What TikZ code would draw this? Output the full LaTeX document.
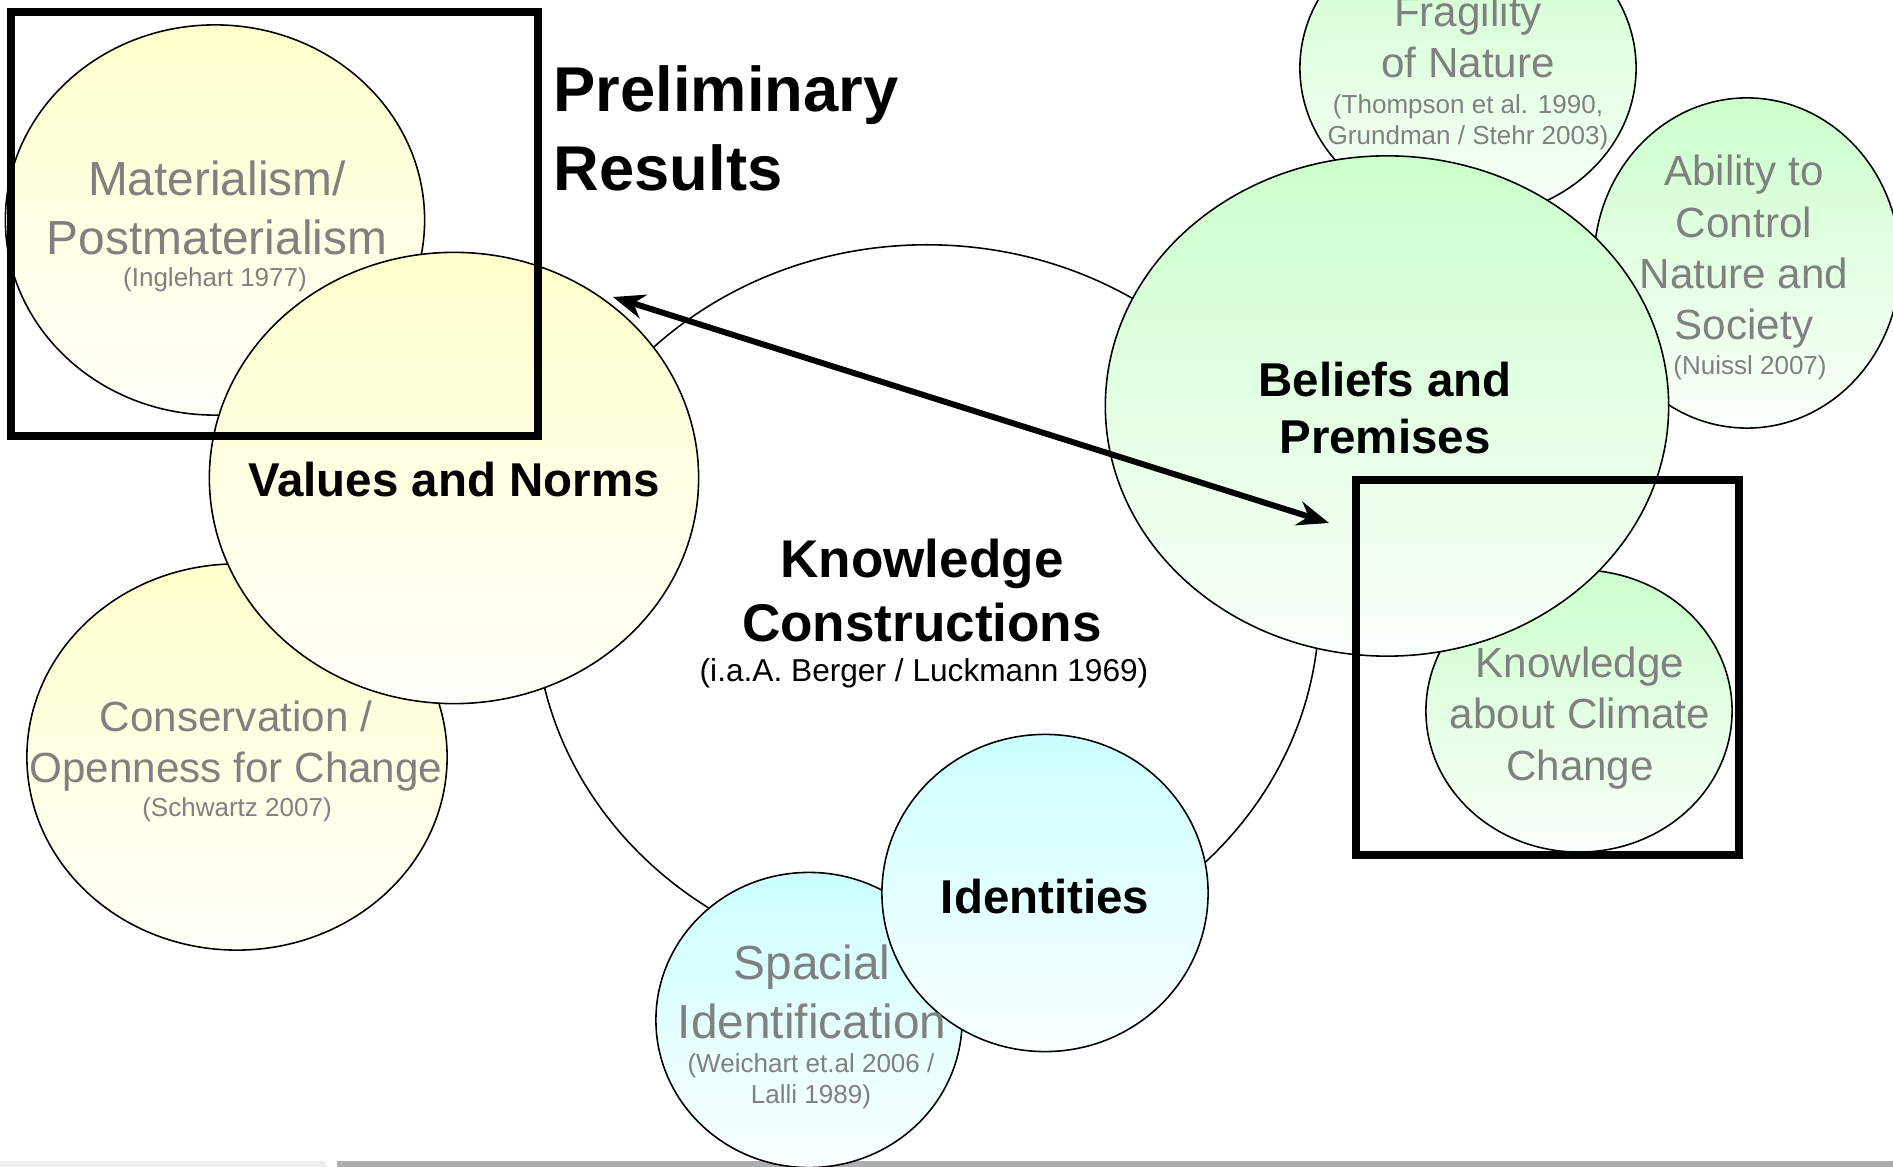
\documentclass[tikz,border=0pt]{standalone}
\usepackage{fontspec}
\setmainfont{Liberation Sans}
\usetikzlibrary{arrows.meta,shapes.geometric}

\definecolor{bubyellow}{RGB}{255,255,204}
\definecolor{bubgreen}{RGB}{204,255,204}
\definecolor{bubcyan}{RGB}{204,255,255}
\definecolor{lblgrey}{RGB}{128,128,128}
\definecolor{barlight}{RGB}{237,237,237}
\definecolor{bardark}{RGB}{170,174,173}

\tikzset{
	bubble/.style={ellipse, draw=black, line width=0.45pt, inner sep=0pt},
	ybubble/.style={bubble, top color=bubyellow, bottom color=bubyellow!10},
	gbubble/.style={bubble, top color=bubgreen, bottom color=bubgreen!10},
	cbubble/.style={bubble, top color=bubcyan, bottom color=bubcyan!10},
	titlelbl/.style={font=\bfseries\fontsize{18}{22.5}\selectfont, align=left, inner sep=0pt},
	kclbl/.style={font=\bfseries\fontsize{15.1}{18.2}\selectfont, align=center, inner sep=0pt},
	mainlbl/.style={font=\bfseries\fontsize{13.5}{16.2}\selectfont, align=center, inner sep=0pt},
	biglbl/.style={text=lblgrey, font=\fontsize{13.6}{16.6}\selectfont, align=center, inner sep=0pt},
	midlbl/.style={text=lblgrey, font=\fontsize{12}{14.6}\selectfont, align=center, inner sep=0pt},
	citelbl/.style={text=lblgrey, font=\fontsize{7.4}{8.8}\selectfont, align=center, inner sep=0pt},
	framebox/.style={draw=black, line width=2.3pt}
}

\begin{document}
\begin{tikzpicture}[x=0.01cm, y=-0.01cm]
\clip (0,0) rectangle (1893,1167);

%----------------------------
% Bottom bar
%----------------------------
\fill[barlight] (0,1161) rectangle (326,1167);
\fill[bardark] (337,1161) rectangle (1893,1167);

%----------------------------
% Centre: knowledge constructions
%----------------------------
\node[bubble, fill=white, minimum width=7.84cm, minimum height=7.24cm] (know) at (927,607) {};

%----------------------------
% Outer bubbles (behind)
%----------------------------
\node[ybubble, minimum width=4.19cm, minimum height=3.90cm] (mat) at (215,220) {};
\node[ybubble, minimum width=4.20cm, minimum height=3.86cm] (cons) at (237,757) {};
\node[gbubble, minimum width=3.36cm, minimum height=3.00cm] (frag) at (1468,68) {};
\node[gbubble, minimum width=3.06cm, minimum height=3.30cm] (abil) at (1747,263) {};
\node[gbubble, minimum width=3.06cm, minimum height=2.82cm] (kcc) at (1579,711) {};
\node[cbubble, minimum width=3.06cm, minimum height=2.95cm] (spac) at (809,1020) {};

%----------------------------
% Main bubbles (front)
%----------------------------
\node[ybubble, minimum width=4.89cm, minimum height=4.51cm] (val) at (454,478) {};
\node[gbubble, minimum width=5.63cm, minimum height=5.00cm] (bel) at (1387,406) {};
\node[cbubble, minimum width=3.26cm, minimum height=3.17cm] (iden) at (1045,893) {};

%----------------------------
% Labels
%----------------------------
\node[titlelbl, anchor=west] (title) at (553,128) {Preliminary\\Results};

\node[kclbl] (knowlbl) at (922,591) {Knowledge\\Constructions};
\node[inner sep=0pt, font=\fontsize{9}{11}\selectfont] (knowcite) at (924,673) {(i.a.A. Berger / Luckmann 1969)};

\node[mainlbl] (vallbl) at (454,480) {Values and Norms};
\node[mainlbl] (bellbl) at (1385,408) {Beliefs and\\Premises};
\node[mainlbl] (idenlbl) at (1045,897) {Identities};

\node[biglbl] (matlbl) at (217,208) {Materialism/\\Postmaterialism};
\node[citelbl] (matcite) at (215,280) {(Inglehart 1977)};

\node[midlbl] (conslbl) at (236,746) {Conservation /\\Openness for Change};
\node[citelbl] (conscite) at (237,810) {(Schwartz 2007)};

\node[midlbl] (fraglbl) at (1468,37) {Fragility\\of Nature};
\node[citelbl] (fragcite) at (1468,122) {(Thompson et al. 1990,\\Grundman / Stehr 2003)};

\node[midlbl] (abillbl) at (1744,252) {Ability to\\Control\\Nature and\\Society};
\node[citelbl] (abilcite) at (1750,368) {(Nuissl 2007)};

\node[midlbl] (kcclbl) at (1580,718) {Knowledge\\about Climate\\Change};

\node[biglbl] (spaclbl) at (812,992) {Spacial\\Identification};
\node[citelbl] (spaccite) at (811,1081) {(Weichart et.al 2006 /\\Lalli 1989)};

%----------------------------
% Frames and arrow
%----------------------------
\draw[framebox] (11,12) rectangle (538,436);
\draw[framebox] (1356,480) rectangle (1739,855);

\coordinate (valtip) at (613,297);
\coordinate (beltip) at (1329,523);
\draw[{Stealth[length=9pt,width=7pt]}-{Stealth[length=9pt,width=7pt]}, line width=1.7pt]
(valtip) -- (beltip);

\end{tikzpicture}
\end{document}
